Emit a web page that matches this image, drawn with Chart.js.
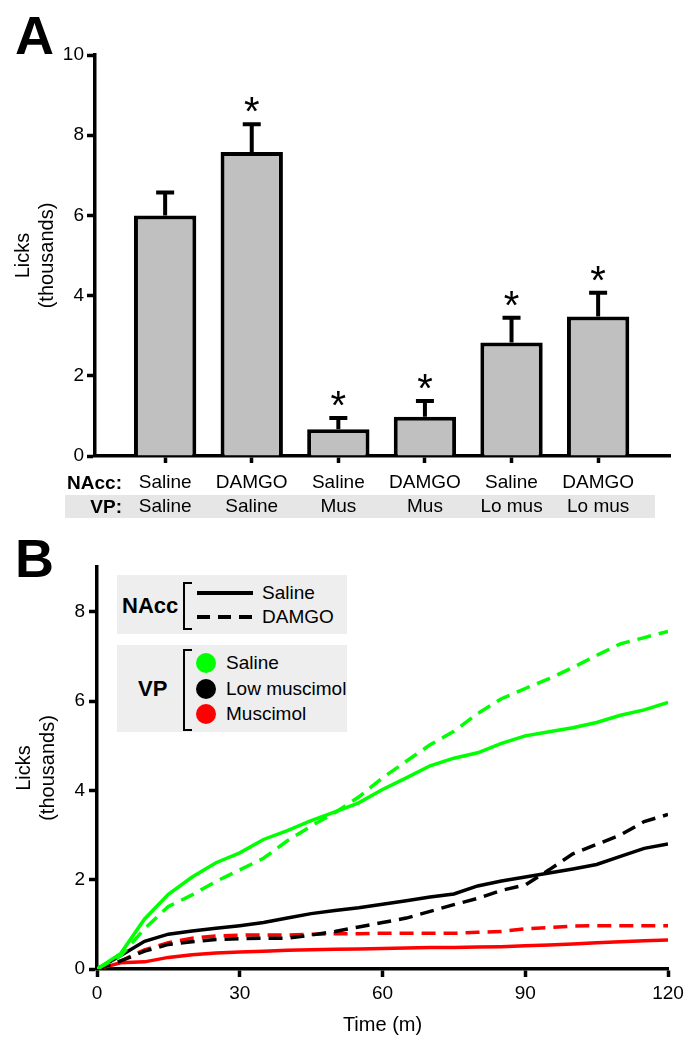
<!DOCTYPE html>
<html>
<head>
<meta charset="utf-8">
<script src="https://cdn.jsdelivr.net/npm/chart.js@4.4.1/dist/chart.umd.min.js"></script>
<style>
  body { margin: 0; background: #fff; font-family: 'Liberation Sans', Arial, sans-serif; }
  #page { position: relative; width: 696px; height: 1049px; overflow: hidden; }
  canvas { position: absolute; left: 0; z-index: 1; }
  .abs { position: absolute; z-index: 2; white-space: nowrap; }
  .mid { transform: translateY(-50%); }
  .letter { font-weight: bold; font-size: 54px; line-height: 1; }
  .rowlab { font-weight: bold; font-size: 19px; text-align: right; width: 100px; }
  .box { position: absolute; background: #eeeeee; z-index: 2; }
  .txt { font-size: 19px; }
  .brk { position: absolute; border: 2px solid #000; border-right: none; width: 7px; z-index: 3; }
  .dot { position: absolute; width: 20px; height: 20px; border-radius: 50%; z-index: 3; }
</style>
</head>
<body>
<div id="page">
  <div id="band" style="position:absolute; left:65px; top:495px; width:590px; height:23px; background:#e6e6e6; z-index:0;"></div>
  <canvas id="barras" width="696" height="530" style="top:0"></canvas>
  <canvas id="linhas" width="696" height="519" style="top:530px"></canvas>

  <div class="abs letter" style="left:15px; top:8px;">A</div>
  <div class="abs letter" style="left:15px; top:531px;">B</div>

  <div class="abs rowlab mid" style="left:22px; top:483px;">NAcc:</div>
  <div class="abs rowlab mid" style="left:22px; top:507px;">VP:</div>

  <!-- legenda NAcc -->
  <div class="box" style="left:117px; top:575px; width:230px; height:59px;"></div>
  <div class="abs mid" style="left:122px; top:606px; font-weight:bold; font-size:22px;">NAcc</div>
  <div class="brk" style="left:183px; top:582px; height:44px;"></div>
  <div class="abs" style="left:197px; top:591px; width:56px; height:4px; background:#000;"></div>
  <div class="abs" style="left:197px; top:615px; width:56px; height:4px; background:repeating-linear-gradient(to right, #000 0 13px, transparent 13px 21px);"></div>
  <div class="abs mid txt" style="left:262px; top:593px;">Saline</div>
  <div class="abs mid txt" style="left:262px; top:617px;">DAMGO</div>

  <!-- legenda VP -->
  <div class="box" style="left:117px; top:645px; width:230px; height:87px;"></div>
  <div class="abs mid" style="left:138px; top:689px; font-weight:bold; font-size:22px;">VP</div>
  <div class="brk" style="left:183px; top:649px; height:78px;"></div>
  <div class="dot" style="left:196px; top:653px; background:#00ff00;"></div>
  <div class="dot" style="left:196px; top:679px; background:#000;"></div>
  <div class="dot" style="left:196px; top:704px; background:#ff0000;"></div>
  <div class="abs mid txt" style="left:226px; top:663px;">Saline</div>
  <div class="abs mid txt" style="left:226px; top:689px;">Low muscimol</div>
  <div class="abs mid txt" style="left:226px; top:714px;">Muscimol</div>
</div>

<script>
// ---- painel A ----
const groupIdx = [0, 1, 2, 3, 4, 5];
const naccLabels = ["Saline", "DAMGO", "Saline", "DAMGO", "Saline", "DAMGO"];
const vpLabels = ["Saline", "Saline", "Mus", "Mus", "Lo mus", "Lo mus"];
const lickMeans = [6.0, 7.58, 0.67, 0.98, 2.83, 3.48];
const lickSem = [0.57, 0.69, 0.28, 0.39, 0.62, 0.59];
const starred = [false, true, true, true, true, true];

// ---- painel B ----
const minutes = [0, 5, 10, 15, 20, 25, 30, 35, 40, 45, 50, 55, 60, 65, 70, 75, 80, 85, 90, 95, 100, 105, 110, 115, 120];
const salSal = [0, 0.35, 1.12, 1.67, 2.06, 2.38, 2.60, 2.90, 3.10, 3.32, 3.52, 3.72, 4.02, 4.28, 4.55, 4.72, 4.84, 5.05, 5.22, 5.31, 5.40, 5.52, 5.68, 5.80, 5.97];
const damSal = [0, 0.30, 0.90, 1.40, 1.66, 1.96, 2.22, 2.48, 2.87, 3.20, 3.50, 3.85, 4.28, 4.65, 5.02, 5.32, 5.72, 6.05, 6.28, 6.50, 6.75, 7.02, 7.28, 7.42, 7.56];
const salLoMus = [0, 0.30, 0.62, 0.78, 0.85, 0.91, 0.97, 1.04, 1.14, 1.24, 1.31, 1.37, 1.45, 1.53, 1.61, 1.68, 1.86, 1.97, 2.06, 2.15, 2.24, 2.34, 2.52, 2.70, 2.80];
const damLoMus = [0, 0.18, 0.40, 0.55, 0.61, 0.66, 0.68, 0.69, 0.69, 0.76, 0.84, 0.94, 1.04, 1.14, 1.29, 1.44, 1.58, 1.76, 1.88, 2.22, 2.58, 2.79, 3.00, 3.30, 3.46];
const salMus = [0, 0.14, 0.16, 0.26, 0.32, 0.36, 0.38, 0.40, 0.42, 0.43, 0.44, 0.45, 0.46, 0.47, 0.48, 0.48, 0.49, 0.50, 0.52, 0.54, 0.56, 0.59, 0.61, 0.63, 0.65];
const damMus = [0, 0.18, 0.43, 0.59, 0.69, 0.74, 0.76, 0.76, 0.76, 0.78, 0.79, 0.79, 0.80, 0.80, 0.80, 0.80, 0.82, 0.84, 0.90, 0.93, 0.96, 0.97, 0.97, 0.97, 0.97];

Chart.defaults.font.family = "'Liberation Sans', Arial, sans-serif";
Chart.defaults.color = "#000";

const axisGrid = { drawOnChartArea: false, drawTicks: true, tickLength: 8, tickWidth: 3.5, tickColor: "#000", offset: false };
const axisBorder = { display: true, width: 3.5, color: "#000" };

// barras de erro + asteriscos
const errorBars = {
    id: "errorBars",
    afterDatasetsDraw(chart) {
        const ctx = chart.ctx;
        const x = chart.scales.x, y = chart.scales.y;
        ctx.save();
        ctx.strokeStyle = "#000";
        ctx.fillStyle = "#000";
        ctx.lineWidth = 4;
        groupIdx.forEach(i => {
            const px = x.getPixelForValue(i);
            const top = y.getPixelForValue(lickMeans[i]);
            const end = y.getPixelForValue(lickMeans[i] + lickSem[i]);
            ctx.beginPath();
            ctx.moveTo(px, top);
            ctx.lineTo(px, end);
            ctx.moveTo(px - 9, end);
            ctx.lineTo(px + 9, end);
            ctx.stroke();
            if (starred[i]) {
                ctx.font = "40px 'Liberation Sans', Arial, sans-serif";
                ctx.textAlign = "center";
                ctx.textBaseline = "alphabetic";
                ctx.fillText("*", px, end + 1);
            }
        });
        ctx.restore();
    }
};

function getBarras() {
    return {
        type: "bar",
        data: {
            datasets: [{
                data: groupIdx.map(i => ({ x: i, y: lickMeans[i] })),
                backgroundColor: "#c0c0c0",
                borderColor: "#000",
                borderWidth: 4,
                barPercentage: 0.72,
                categoryPercentage: 1
            }]
        },
        options: {
            responsive: false,
            animation: false,
            layout: { padding: { top: 55, right: 26, left: 0, bottom: 0 } },
            plugins: { legend: { display: false }, tooltip: { enabled: false } },
            scales: {
                x: {
                    type: "linear",
                    offset: false,
                    min: -0.81,
                    max: 5.83,
                    afterBuildTicks: s => { s.ticks = groupIdx.map(v => ({ value: v })); },
                    afterFit: s => { s.height = 74; },
                    grid: { ...axisGrid, tickLength: 7 },
                    border: axisBorder,
                    ticks: {
                        font: { size: 19, lineHeight: 1.27 },
                        padding: 8,
                        maxRotation: 0,
                        autoSkip: false,
                        callback: v => [naccLabels[v], vpLabels[v]]
                    }
                },
                y: {
                    min: 0,
                    max: 10,
                    afterFit: s => { s.width = 95; },
                    grid: axisGrid,
                    border: axisBorder,
                    ticks: { stepSize: 2, font: { size: 19 }, padding: 3 },
                    title: { display: true, text: ["Licks", "(thousands)"], font: { size: 20, lineHeight: 1.2 }, padding: { top: 11 } }
                }
            }
        },
        plugins: [errorBars]
    };
}

function serie(vals, color, dashed) {
    return {
        data: minutes.map((t, i) => ({ x: t, y: vals[i] })),
        borderColor: color,
        borderWidth: 3.5,
        borderDash: dashed ? [14, 8] : [],
        pointRadius: 0,
        tension: 0,
        fill: false
    };
}

function getLinhas() {
    return {
        type: "line",
        data: {
            datasets: [
                serie(salSal, "#00ff00", false),
                serie(damSal, "#00ff00", true),
                serie(salLoMus, "#000000", false),
                serie(damLoMus, "#000000", true),
                serie(salMus, "#ff0000", false),
                serie(damMus, "#ff0000", true)
            ]
        },
        options: {
            responsive: false,
            animation: false,
            layout: { padding: { top: 37, right: 28, left: 0, bottom: 0 } },
            plugins: { legend: { display: false }, tooltip: { enabled: false } },
            scales: {
                x: {
                    type: "linear",
                    min: 0,
                    max: 120,
                    afterFit: s => { s.height = 80; },
                    grid: axisGrid,
                    border: axisBorder,
                    ticks: { stepSize: 30, font: { size: 19 }, padding: 5, maxRotation: 0 },
                    title: { display: true, text: "Time (m)", font: { size: 20, lineHeight: 1.2 }, padding: { bottom: 12 } }
                },
                y: {
                    min: 0,
                    max: 9,
                    afterFit: s => { s.width = 97; },
                    grid: axisGrid,
                    border: axisBorder,
                    ticks: { stepSize: 2, includeBounds: false, font: { size: 19 }, padding: 4 },
                    title: { display: true, text: ["Licks", "(thousands)"], font: { size: 20, lineHeight: 1.2 }, padding: { top: 12 } }
                }
            }
        }
    };
}

new Chart(document.getElementById("barras"), getBarras());
new Chart(document.getElementById("linhas"), getLinhas());
</script>
</body>
</html>
